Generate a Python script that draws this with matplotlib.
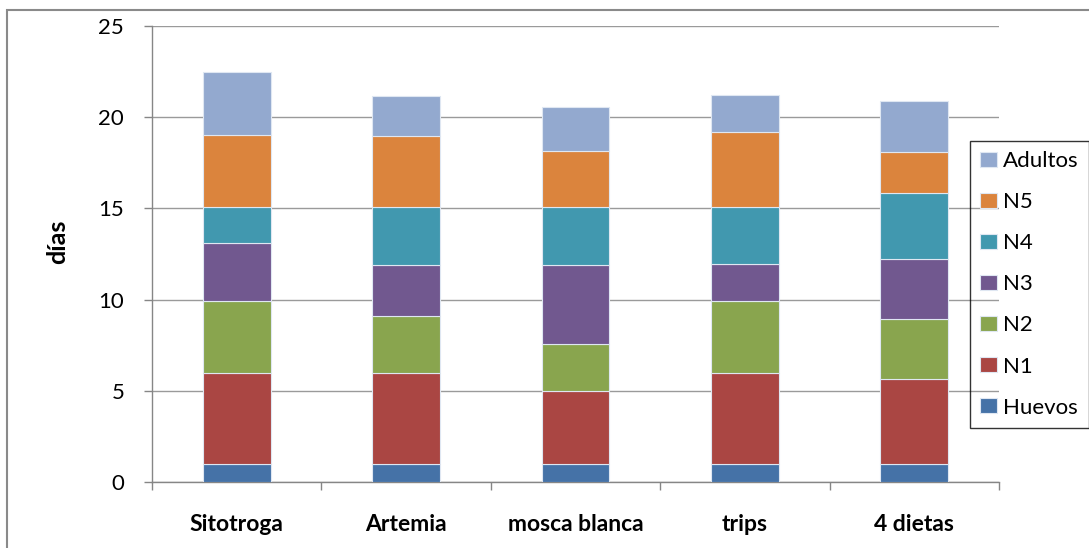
# Duracion de estados de desarrollo segun dieta (barras apiladas)

import numpy as np
import matplotlib
matplotlib.use("Agg")
import matplotlib.pyplot as plt
from matplotlib.patches import Rectangle

categorias = ["Sitotroga", "Artemia", "mosca blanca", "trips", "4 dietas"]
estados = ["Huevos", "N1", "N2", "N3", "N4", "N5", "Adultos"]

huevos = [1, 1, 1, 1, 1]
n1 = [5, 5, 4, 5, 4.65]
n2 = [3.9, 3.1, 2.55, 3.9, 3.3]
n3 = [3.2, 2.8, 4.35, 2.05, 3.25]
n4 = [2.0, 3.15, 3.15, 3.15, 3.65]
n5 = [3.9, 3.9, 3.1, 4.1, 2.25]
adultos = [3.5, 2.2, 2.4, 2.0, 2.8]

colores = ["#4572A7", "#AA4643", "#89A54E", "#71588F", "#4198AF", "#DB843D", "#93A9CF"]


def main():
    plt.rcParams["font.family"] = ["Lato", "DejaVu Sans"]
    fig = plt.figure(figsize=(10.89, 5.48), dpi=100)
    ax = fig.add_axes([152 / 1089, 1 - 482 / 548, 847 / 1089, 456 / 548])

    # borde del area del grafico
    fig.patches.append(Rectangle((7 / 1089, -0.1), 1.2, 1 - 10 / 548 + 0.1,
                                 transform=fig.transFigure, fill=False,
                                 edgecolor="#8a8a8a", linewidth=1.5))

    series = [huevos, n1, n2, n3, n4, n5, adultos]
    x = np.arange(len(categorias))
    base = np.zeros(len(categorias))
    for vals, nombre, col in zip(series, estados, colores):
        ax.bar(x, vals, 0.4, bottom=base, color=col, label=nombre,
               edgecolor="#dfe7f2", linewidth=0.8, zorder=3)
        base += np.array(vals)

    ax.set_xlim(-0.5, len(categorias) - 0.5)
    ax.set_ylim(0, 25)
    ax.set_yticks(range(0, 26, 5))
    ax.yaxis.grid(True, color="#9a9a9a", linewidth=1.0, zorder=0)
    ax.set_axisbelow(True)

    ax.set_xticks(x)
    ax.set_xticklabels(categorias, fontsize=16.5, fontweight="bold")
    ax.set_xticks(np.arange(-0.5, len(categorias)), minor=True)
    ax.tick_params(axis="x", which="major", length=0, pad=23)
    ax.tick_params(axis="x", which="minor", length=6, color="#868686", width=1)
    ax.tick_params(axis="y", length=6, color="#868686", width=1, pad=14,
                   labelsize=16)

    for s in ["top", "right"]:
        ax.spines[s].set_visible(False)
    for s in ["left", "bottom"]:
        ax.spines[s].set_color("#868686")
        ax.spines[s].set_linewidth(1)

    ax.set_ylabel("días", fontsize=18, fontweight="bold")
    ax.yaxis.set_label_coords(-0.098, 0.526)

    h, l = ax.get_legend_handles_labels()
    leg = fig.legend(h[::-1], l[::-1], loc="upper left",
                     bbox_to_anchor=(970 / 1089, 1 - 141 / 548),
                     borderaxespad=0, fontsize=16, labelspacing=0.95,
                     handlelength=0.75, handleheight=0.65, handletextpad=0.3,
                     borderpad=0.45, fancybox=False, frameon=True)
    leg.get_frame().set_edgecolor("black")
    leg.get_frame().set_facecolor("none")
    leg.get_frame().set_linewidth(1)

    fig.savefig("out.png", dpi=100)


if __name__ == "__main__":
    main()
